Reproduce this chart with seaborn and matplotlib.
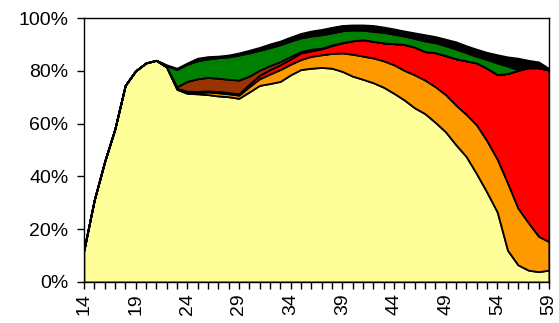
import numpy as np
import pandas as pd
import matplotlib
matplotlib.use("Agg")
import matplotlib.pyplot as plt
import seaborn as sns

ages = list(range(14, 60))

# cumulative tops (%)
cum_yellow = [12, 31, 45.5, 58, 74.5, 80, 83, 84, 81.5, 73, 71.5, 71.3, 71, 70.5, 70.2, 69.6,
              72, 74.5, 75.2, 76, 78.5, 80.5, 81, 81.3, 81, 79.8, 78, 76.8, 75.5, 73.8, 71.5,
              69, 66, 63.8, 60.5, 56.9, 52, 47.5, 41, 34, 26.5, 12, 6.5, 4.5, 3.9, 4.5]
cum_orange = [12, 31, 45.5, 58, 74.5, 80, 83, 84, 81.5, 73.2, 72, 71.8, 72, 71.7, 71.3, 70.8,
              74, 77, 78.8, 80.5, 82.5, 84.3, 85.5, 86.1, 86.6, 86.8, 86.3, 85.6, 84.9, 83.8, 82.3,
              80.2, 78.5, 76.5, 74, 71, 67, 63.5, 59.5, 53.5, 46.5, 37.5, 28, 22.5, 17.3, 15.3]
cum_red = [12, 31, 45.5, 58, 74.5, 80, 83, 84, 81.5, 73.4, 72.3, 72.2, 72.4, 72.2, 71.8, 71.3,
           75, 78.3, 80.5, 82.3, 84.5, 86.8, 87.6, 88.3, 89.6, 90.6, 91.4, 91.8, 91.2, 90.6, 90.3,
           90, 89, 87.3, 86.9, 85.8, 84.6, 83.8, 83, 81, 78.6, 79, 80.2, 81.2, 81.2, 80.3]
cum_brown = [12, 31, 45.5, 58, 74.5, 80, 83, 84, 81.5, 74, 76, 77, 77.5, 77.2, 76.8, 76.5,
             78, 80.3, 82, 83.5, 85.5, 87.3, 88.2, 88.6, 89.8, 90.7, 91.4, 91.8, 91.2, 90.6, 90.3,
             90, 89, 87.3, 86.9, 85.8, 84.6, 83.8, 83, 81, 78.6, 79, 80.2, 81.2, 81.2, 80.3]
cum_green = [12, 31, 45.5, 58, 74.5, 80, 83, 84, 82, 80.5, 82.5, 83.8, 84.5, 85, 85.3, 86,
             86.8, 87.8, 88.8, 89.9, 91.3, 92.5, 93.2, 93.7, 94.4, 95.2, 95.5, 95.4, 95, 94.6, 93.9,
             93.2, 92.3, 91.3, 90.7, 89.5, 88.3, 86.9, 85.5, 84.3, 83, 81.8, 80.5, 81.2, 81.2, 80.3]
cum_black = [12, 31, 45.5, 58, 74.5, 80, 83, 84, 82.3, 81, 83, 84.8, 85.4, 85.6, 86, 86.8,
             87.8, 88.9, 90.2, 91.3, 92.8, 94.2, 95.1, 95.7, 96.5, 97.2, 97.4, 97.4, 97.2, 96.6, 95.9,
             95.1, 94.4, 93.7, 93, 92, 91, 89.5, 88.2, 87, 86.1, 85.3, 84.8, 84, 83.4, 80.9]

tick_labels = [14, 19, 24, 29, 34, 39, 44, 49, 54, 59]
colors = ["#FFFF99", "#FF9900", "#FF0000", "#993300", "#008000", "#000000"]

cums = np.array([cum_yellow, cum_orange, cum_red, cum_brown, cum_green, cum_black])
layers = np.diff(np.vstack([np.zeros(len(ages)), cums]), axis=0)
df = pd.DataFrame(layers.T, index=ages,
                  columns=["yellow", "orange", "red", "brown", "green", "black"])

sns.set_theme(style="white")
plt.rcParams["font.family"] = ["Liberation Sans", "DejaVu Sans"]

fig = plt.figure(figsize=(5.59, 3.23), dpi=100)
ax = fig.add_axes([0.150, 0.127, 0.832, 0.817])

ax.stackplot(df.index, *[df[c].values for c in df.columns], colors=colors,
             edgecolor="black", linewidth=1.3)

ax.set_xlim(14, 59)
ax.set_ylim(0, 100)
ax.set_yticks([0, 20, 40, 60, 80, 100])
ax.set_yticklabels([f"{v}%" for v in [0, 20, 40, 60, 80, 100]], fontsize=14, color="black")
ax.set_xticks(tick_labels)
ax.set_xticklabels([str(v) for v in tick_labels], rotation=90, fontsize=14, color="black")
ax.set_xticks(ages, minor=True)
ax.tick_params(axis="both", which="both", direction="out", length=5, width=1, color="black",
               bottom=True, left=True)
ax.tick_params(axis="y", which="major", pad=6)
ax.tick_params(axis="x", which="major", pad=3)
for s in ax.spines.values():
    s.set_color("black")
    s.set_linewidth(1)
ax.grid(False)

fig.savefig("out.png", dpi=100)
